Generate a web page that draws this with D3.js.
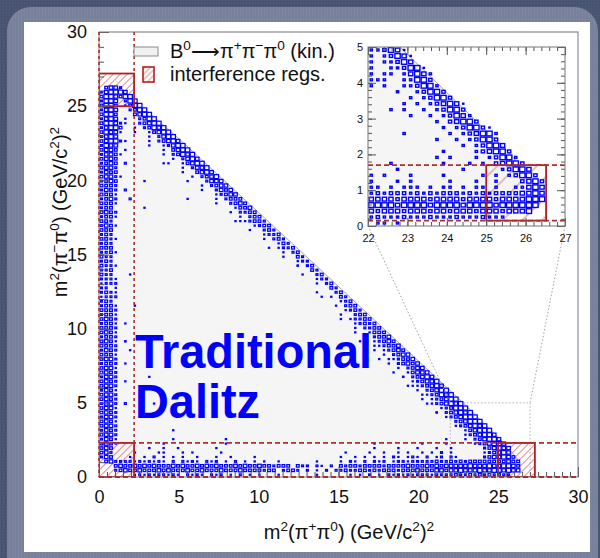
<!DOCTYPE html>
<html>
<head>
<meta charset="utf-8">
<script src="https://cdn.jsdelivr.net/npm/d3@7/dist/d3.min.js"></script>
<style>
  html, body { margin: 0; padding: 0; background: #47536f; }
  svg { display: block; }
</style>
</head>
<body>
<svg id="chart" width="600" height="558"></svg>
<script>
// ---------------- data ----------------
const mainTickValues = [0, 5, 10, 15, 20, 25, 30];
const insetXTickValues = [22, 23, 24, 25, 26, 27];
const insetYTickValues = [0, 1, 2, 3, 4, 5];

// histogram bin widths in GeV^2
const mainBin = 0.3;
const insetBin = 1 / 6;

// Kinematic limit of B0 -> pi+ pi- pi0 : [m2(pi+pi0), m2(pi-pi0)]
const kinBoundary = [
  [0.076, 13.7], [0.1, 20.7], [0.2, 24.6], [0.3, 25.7], [0.5, 26.3], [0.755, 26.41],
  [1, 26.35], [2, 25.62], [5, 22.81], [13.7, 14.15], [22.81, 5], [25.62, 2],
  [26.35, 1], [26.41, 0.755], [26.3, 0.5], [25.7, 0.3], [20.7, 0.1], [13.7, 0.076],
  [6.9, 0.1], [5, 0.13], [2, 0.28], [1, 0.53], [0.5, 1.08], [0.3, 1.84],
  [0.28, 2], [0.13, 5], [0.1, 6.9]
];

// interference regions [xmin, xmax, ymin, ymax]
const interferenceRegions = [[0, 2.2, 25.0, 27.2], [0, 2.2, 0, 2.3], [25.0, 27.3, 0, 2.3]];
const bandCutsX = [0, 2.2];
const bandCutsY = [0, 2.3];
const zoomWindow = [22, 27, 0, 5];
const insetRegion = [25.0, 26.52, 0.15, 1.7];
const insetCutsY = [0.15, 1.7];

// Main histogram contents: [row, first column, box level per column ('.' = empty)]
const leftBandRows = [
  [87,0,".3442"],[86,0,"245554"],[85,0,"3554355"],[84,0,"2554.255"],
  [83,0,"3553.1355"],[82,0,"2454..2355"],[81,0,"3553...3455"],[80,0,"2454.1..2355"],
  [79,0,"35542"],[78,0,"24553"],[77,0,"35441"],[76,0,"2454"],[75,0,"34552"],[74,0,"2544"],
  [73,0,"3443.1"],[72,0,"24431"],[71,0,"3443"],[70,0,"2343.2"],[69,0,"3442"],[68,0,"2433"],
  [67,0,"34421"],[66,0,"2343"],[65,0,"3332"],[64,0,"2432"],[63,0,"3331"],[62,0,"2342..2"],
  [61,0,"3331"],[60,0,"233"],[59,0,"3432"],[58,0,"2331"],[57,0,"332"],[56,0,"2431"],
  [55,0,"333"],[54,0,"232"],[53,0,"3321"],[52,0,"232"],[51,0,"333"],[50,0,"2231"],
  [49,0,"322"],[48,0,"232"],[47,0,"3221"],[46,0,"223"],[45,0,"322"],[44,0,"2221"],
  [43,0,"1222"],[42,0,"22.1"],[41,0,"2321"],[40,0,"1222"],[39,0,"232"],[38,0,"2331"],
  [37,0,"3332"],[36,0,"2331"],[35,0,"3432"],[34,0,"2331.1"],[33,0,"3332"],[32,0,"3431"],
  [31,0,"2332"],[30,0,"3431.1"],[29,0,"3332"],[28,0,"2432"],[27,0,"3331"],[26,0,"3442"],
  [25,0,"2332.1"],[24,0,"3441"],[23,0,"3432"],[22,0,"2442"],[21,0,"3432.1"],[20,0,"3442"],
  [19,0,"2431"],[18,0,"3442"],[17,0,"3432"],[16,0,"2442.2"],[15,0,"3441"],[14,0,"3432"],
  [13,0,"2442"],[12,0,"3431"],[11,0,"3442"],[10,0,"2432"],[9,0,"3442"],[8,0,"2431"],
  [7,0,"3431"],[6,0,"343"],[5,0,"342"],[4,0,"243"],[3,0,".34"]
];

const diagonalRows = [
  [79,5,"1..23455"],[78,6,".1.23545"],[77,7,"1..13455"],[76,8,"..1.2455"],
  [75,9,".1.23454"],[74,10,"1..12455"],[73,11,"..1.3455"],[72,12,".1.23545"],
  [71,13,"..1.2454"],[70,14,"1..13455"],[69,15,"..1.2445"],[68,16,".1..3454"],
  [67,17,"..1.2345"],[66,18,"1...2444"],[65,19,"..1.2344"],[64,20,".1..2434"],
  [63,21,"...12344"],[62,22,"..1.2333"],[61,23,".1..2343"],[60,24,"....1334"],
  [59,25,"..1.2233"],[58,26,"...1.233"],[57,27,".1..2332"],[56,28,"....1233"],
  [55,29,"..1..232"],[54,30,"....1223"],[53,31,"...1.232"],[52,32,".....132"],
  [51,33,"..1..223"],[50,34,"....1.23"],[49,35,"...1..32"],[48,36,".....122"],
  [47,37,"....1.23"],[46,38,"......32"],[45,39,"...1..23"],[44,40,".....122"],
  [43,41,"....1.23"],[42,42,"......32"],[41,43,"..1...23"],[40,44,"....1.32"],
  [39,45,".....123"],[38,46,"...1.233"],[37,47,"....1232"],[36,48,"..1..233"],
  [35,49,".1..2233"],[34,50,"...12323"],[33,51,"..1.2233"],[32,52,".1..1333"],
  [31,53,"..1.2334"],[30,54,"1..12343"],[29,55,"..1.2334"],[28,56,".1.12343"],
  [27,57,"..1.2344"],[26,58,"1..12334"],[25,59,".1.23434"],[24,60,"..1.2344"],
  [23,61,"1..13444"],[22,62,".1.23454"],[21,63,"..123445"],[20,64,"1.123454"],
  [19,65,".1.23455"],[18,66,"..123545"],[17,67,"1.123455"],[16,68,".1234545"],
  [15,69,"..123555"],[14,70,"1.234545"],[13,71,".1234555"],[12,72,"..234555"],
  [11,73,".1234545"],[10,74,"..134555"],[9,75,".1234554"],[8,76,"1.234554"],
  [7,77,".1234554"],[6,78,"..234544"],[5,79,".123454"],[4,80,"2344543"]
];

// low-mass pi-pi0 band, written in blocks of ten columns
const lowBandRows = [
  [3,3,"2222121212"+"1.2.2121.2"+"12.1.2.1.1"+".1..1....."+"..1....1.2"+"1.2.212.12"+"2122222322"+"3232333333"+"33433"],
  [2,3,"3433434343"+"3343433434"+"3433343433"+"4332333.32"+"2.21.2.323"+"3233332333"+"3433343434"+"4444544454"+"45543"],
  [1,3,"2343343334"+"3433343343"+"3343334333"+"3233.2332."+"2.1.2.2232"+"2332323332"+"3334333443"+"4454445445"+"54544"],
  [0,3,"....121212"+"2121.2121."+"212.1.2.1."+"1...1....."+"..1......1"+".1.2.1.212"+"1212221222"+"2322323232"+"322"],
  [4,5,".1..1.2.1."+"1.1..1...1"+"..1....1.."+".........."+".....1..1."+"1.1.1.21.1"+"21.2.12.21"],
  [5,5,"..1....11."+"..1.1....."+"1........."+".........."+"......1..."+".1..1..1.1"+"..1.1.2.1."],
  [6,5,".....1..1."+".1.......1"+".........."+".........."+".........."+"..1....1.."+".1...1..1."],
  [7,5,"........1."+".........."+".1........"+".........."+".........."+"..1......."+"..1....1.."],
  [8,5,".........."+"1........."+".1........"+".........."+".........."+".........."+".......1.."]
];

// isolated entries: [column, row, level]
const isolatedBins = [
  [13,70,1],[9,66,1],[18,62,1],[9,60,1],[5,75,1],[5,64,2],[29,57,1],[30,57,1],
  [37,51,1],[41,47,1],[6,28,1],[10,22,1],[11,16,1],[15,10,1],[52,35,1],[58,29,1],
  [65,20,1],[67,18,1],[70,14,1],[46,40,1],[60,26,1],[63,22,1],[68,16,1],[6,45,1],
  [7,38,1],[5,30,1]
];

// Zoomed histogram (22-27 x 0-5), one string per row from the bottom
const insetRows = [
  ".22.2",
  "232223222322232223222",
  "4344434443443444344434445",
  "55554555545555455554555555",
  "444434444344443444434444555",
  "232333232323332323233334454",
  "22.2.222.2.22.2.22.2..22454",
  "2...2.2.....2...2..2...3453",
  "2.2...2....2.....2.2.23553",
  "....2.........2.....23554",
  "...2.......2...2.2.34553",
  "..........2.2...2.23552",
  "...........2....234553",
  "..............2.23554",
  "..........2..2.23553",
  ".....2......2.234552",
  "...........2.235531",
  "..........2.34553",
  "......2..2.23542",
  "...2.2..2.23553",
  ".....2.2.234541",
  "......2.23553",
  "....2..23553",
  "2.2..223552",
  "222..22553",
  "2.22.24542",
  "2..223551",
  "2.22354",
  "2.23541",
  "223541"
];

// ---------------- drawing ----------------
const FONT = "'Liberation Sans', Arial, Helvetica, sans-serif";
const BLUE = "#0000ff";
const RED = "#b41e1e";
const DASH_RED = "#aa3030";

const svg = d3.select("#chart");
const defs = svg.append("defs");

// slide background textures
const bgTex = defs.append("pattern").attr("id", "bgTex").attr("patternUnits", "userSpaceOnUse")
  .attr("width", 3).attr("height", 3);
bgTex.append("rect").attr("width", 3).attr("height", 3).attr("fill", "#46526f");
bgTex.append("rect").attr("width", 1).attr("height", 3).attr("fill", "#4b5774");
bgTex.append("rect").attr("width", 3).attr("height", 1).attr("fill", "#4b5774");

const frTex = defs.append("pattern").attr("id", "frTex").attr("patternUnits", "userSpaceOnUse")
  .attr("width", 3).attr("height", 3);
frTex.append("rect").attr("width", 3).attr("height", 3).attr("fill", "#78819a");
frTex.append("rect").attr("width", 1).attr("height", 3).attr("fill", "#7d869e");

function makeHatch(id, gap, color, width) {
  const p = defs.append("pattern").attr("id", id).attr("patternUnits", "userSpaceOnUse")
    .attr("width", gap).attr("height", gap).attr("patternTransform", "rotate(45)");
  p.append("line").attr("x1", gap / 2).attr("x2", gap / 2).attr("y1", 0).attr("y2", gap)
    .attr("stroke", color).attr("stroke-width", width);
}
makeHatch("hatchMain", 5, "#e28a8a", 1);
makeHatch("hatchInset", 14, "#dd7777", 1);
makeHatch("hatchLegend", 4, "#e28a8a", 1);

svg.append("rect").attr("width", 600).attr("height", 558).attr("fill", "url(#bgTex)");
svg.append("rect").attr("x", 7).attr("y", 7).attr("width", 591).attr("height", 580).attr("rx", 24)
  .attr("fill", "url(#frTex)");
svg.append("rect").attr("x", 24).attr("y", 22).attr("width", 566).attr("height", 530).attr("fill", "#fff");

// scales
const x = d3.scaleLinear().domain([0, 30]).range([99, 578]);
const y = d3.scaleLinear().domain([0, 30]).range([477, 32]);
const xi = d3.scaleLinear().domain([22, 27]).range([368, 565]);
const yi = d3.scaleLinear().domain([0, 5]).range([226, 47]);

defs.append("clipPath").attr("id", "clipMain").append("rect")
  .attr("x", x(0)).attr("y", y(30)).attr("width", x(30) - x(0)).attr("height", y(0) - y(30));
defs.append("clipPath").attr("id", "clipInset").append("rect")
  .attr("x", xi(22)).attr("y", yi(5)).attr("width", xi(27) - xi(22)).attr("height", yi(0) - yi(5));

function drawHist(g, rows, bin, sx, sy, x0, lw, frac) {
  const cells = [];
  rows.forEach(([r, c0, pat]) => {
    for (let i = 0; i < pat.length; i++) {
      const v = +pat[i];
      if (v > 0) cells.push({ r, c: c0 + i, v });
    }
  });
  const bw = sx(x0 + bin) - sx(x0), bh = sy(0) - sy(bin);
  const side = (v, b) => Math.max(frac(v) * b - lw, 0.6);
  g.append("g").selectAll("rect").data(cells).join("rect")
    .attr("x", d => sx(x0 + (d.c + 0.5) * bin) - side(d.v, bw) / 2)
    .attr("y", d => sy((d.r + 0.5) * bin) - side(d.v, bh) / 2)
    .attr("width", d => side(d.v, bw))
    .attr("height", d => side(d.v, bh))
    .attr("fill", "#fff").attr("stroke", BLUE).attr("stroke-width", lw);
}

function rich(textSel, parts, size) {
  let shift = 0;
  parts.forEach(([t, sup]) => {
    const target = sup ? -0.4 * size : 0;
    textSel.append("tspan").attr("dy", target - shift)
      .attr("font-size", sup ? 0.68 * size : size).text(t);
    shift = target;
  });
}

// ---------- main Dalitz plot ----------
const main = svg.append("g");
const plot = main.append("g").attr("clip-path", "url(#clipMain)");
const kinLine = d3.line().x(d => x(d[0])).y(d => y(d[1]));

plot.append("path").attr("d", kinLine(kinBoundary) + "Z").attr("fill", "#f5f5f5").attr("stroke", "none");
plot.append("path").attr("d", kinLine(kinBoundary.slice(4, 15))).attr("fill", "none")
  .attr("stroke", "#a8a8a8").attr("stroke-width", 1);

// dotted outline of the zoomed window
plot.append("path")
  .attr("d", `M${x(zoomWindow[0])},${y(zoomWindow[2])}V${y(zoomWindow[3])}H${x(zoomWindow[1])}V${y(zoomWindow[2])}`)
  .attr("fill", "none").attr("stroke", "#aaa").attr("stroke-width", 0.9).attr("stroke-dasharray", "1.5,2");

// hatched interference regions
plot.selectAll("rect.hatch").data(interferenceRegions).join("rect").attr("class", "hatch")
  .attr("x", d => x(d[0])).attr("y", d => y(d[3]))
  .attr("width", d => x(d[1]) - x(d[0])).attr("height", d => y(d[2]) - y(d[3]))
  .attr("fill", "url(#hatchMain)");

drawHist(plot, leftBandRows.concat(diagonalRows, lowBandRows,
  isolatedBins.map(([c, r, v]) => [r, c, String(v)])), mainBin, x, y, 0, 1.25,
  d3.scaleLinear().domain([1, 5]).range([0.5, 1.18]));

// region outlines
plot.selectAll("rect.region").data(interferenceRegions).join("rect").attr("class", "region")
  .attr("x", d => x(d[0])).attr("y", d => y(d[3]))
  .attr("width", d => x(d[1]) - x(d[0])).attr("height", d => y(d[2]) - y(d[3]))
  .attr("fill", "none").attr("stroke", RED).attr("stroke-width", 1.8);

// axes
const axisStyle = (g, size) => {
  g.select(".domain").remove();
  g.selectAll(".tick line").attr("stroke", "#555").attr("stroke-width", 1);
  g.selectAll("text").attr("font-family", FONT).attr("font-size", size).attr("fill", "#111");
};
main.append("g").attr("transform", `translate(0,${y(0)})`)
  .call(d3.axisBottom(x).tickValues(d3.range(0, 30.01, 0.5)).tickSize(-5).tickFormat(""))
  .call(g => axisStyle(g, 18));
main.append("g").attr("transform", `translate(${x(0)},0)`)
  .call(d3.axisLeft(y).tickValues(d3.range(0, 30.01, 1)).tickSize(-5).tickFormat(""))
  .call(g => axisStyle(g, 18));
main.append("g").attr("transform", `translate(0,${y(0)})`)
  .call(d3.axisBottom(x).tickValues(mainTickValues).tickSize(-10).tickPadding(13).tickFormat(d3.format("d")))
  .call(g => axisStyle(g, 18));
main.append("g").attr("transform", `translate(${x(0)},0)`)
  .call(d3.axisLeft(y).tickValues(mainTickValues).tickSize(-10).tickPadding(12).tickFormat(d3.format("d")))
  .call(g => axisStyle(g, 18));

main.append("rect").attr("x", x(0)).attr("y", y(30)).attr("width", x(30) - x(0)).attr("height", y(0) - y(30))
  .attr("fill", "none").attr("stroke", "#777").attr("stroke-width", 1);

// dashed band boundaries
main.selectAll("line.bx").data(bandCutsX).join("line").attr("class", "bx")
  .attr("x1", d => x(d)).attr("x2", d => x(d)).attr("y1", y(30)).attr("y2", y(0))
  .attr("stroke", DASH_RED).attr("stroke-width", 1.6).attr("stroke-dasharray", "3,3");
main.selectAll("line.by").data(bandCutsY).join("line").attr("class", "by")
  .attr("x1", x(0)).attr("x2", x(30)).attr("y1", d => y(d)).attr("y2", d => y(d))
  .attr("stroke", DASH_RED).attr("stroke-width", 1.8).attr("stroke-dasharray", "5,3");

// axis titles
const xt = main.append("text").attr("x", 349).attr("y", 539).attr("text-anchor", "middle")
  .attr("font-family", FONT).attr("font-size", 20).attr("fill", "#111");
rich(xt, [["m", 0], ["2", 1], ["(π", 0], ["+", 1], ["π", 0], ["0", 1], [") (GeV/c", 0], ["2", 1], [")", 0], ["2", 1]], 20);
const yt = main.append("text").attr("transform", "translate(67,212) rotate(-90)").attr("text-anchor", "middle")
  .attr("font-family", FONT).attr("font-size", 20).attr("fill", "#111");
rich(yt, [["m", 0], ["2", 1], ["(π", 0], ["−", 1], ["π", 0], ["0", 1], [") (GeV/c", 0], ["2", 1], [")", 0], ["2", 1]], 20);

// connector lines from the zoom window to the inset
main.selectAll("line.zoom").data([0, 1]).join("line").attr("class", "zoom")
  .attr("x1", d => xi(zoomWindow[d])).attr("y1", yi(0))
  .attr("x2", d => x(zoomWindow[d])).attr("y2", y(zoomWindow[3]))
  .attr("stroke", "#999").attr("stroke-width", 0.9).attr("stroke-dasharray", "1.5,2");

// legend
const legend = main.append("g").attr("font-family", FONT).attr("font-size", 20).attr("fill", "#111");
legend.append("rect").attr("x", 134).attr("y", 47).attr("width", 24).attr("height", 9)
  .attr("fill", "#f1f1f1").attr("stroke", "#8a8a8a").attr("stroke-width", 1);
legend.append("rect").attr("x", 143).attr("y", 67).attr("width", 11).attr("height", 15)
  .attr("fill", "url(#hatchLegend)").attr("stroke", RED).attr("stroke-width", 1.6);
rich(legend.append("text").attr("x", 170).attr("y", 58),
  [["B", 0], ["0", 1], ["⟶π", 0], ["+", 1], ["π", 0], ["−", 1], ["π", 0], ["0", 1], [" (kin.)", 0]], 20);
legend.append("text").attr("x", 170).attr("y", 81).text("interference regs.");

// caption inside the plot
const cap = main.append("g").attr("font-family", FONT).attr("font-weight", "bold")
  .attr("font-size", 48).attr("fill", BLUE);
cap.append("text").attr("x", 135).attr("y", 368).attr("textLength", 237)
  .attr("lengthAdjust", "spacingAndGlyphs").text("Traditional");
cap.append("text").attr("x", 135).attr("y", 418).attr("textLength", 125)
  .attr("lengthAdjust", "spacingAndGlyphs").text("Dalitz");

// ---------- inset ----------
const inset = svg.append("g");
inset.append("rect").attr("x", xi(22)).attr("y", yi(5)).attr("width", xi(27) - xi(22))
  .attr("height", yi(0) - yi(5)).attr("fill", "#fff");
const ip = inset.append("g").attr("clip-path", "url(#clipInset)");
const kinLineI = d3.line().x(d => xi(d[0])).y(d => yi(d[1]));
ip.append("path").attr("d", kinLineI(kinBoundary) + "Z").attr("fill", "#f5f5f5");
ip.append("path").attr("d", kinLineI(kinBoundary.slice(4, 15))).attr("fill", "none")
  .attr("stroke", "#a8a8a8").attr("stroke-width", 1);
ip.append("rect").attr("x", xi(insetRegion[0])).attr("y", yi(insetRegion[3]))
  .attr("width", xi(insetRegion[1]) - xi(insetRegion[0])).attr("height", yi(insetRegion[2]) - yi(insetRegion[3]))
  .attr("fill", "url(#hatchInset)");
drawHist(ip, insetRows.map((p, r) => [r, 0, p]), insetBin, xi, yi, 22, 1.4,
  d3.scaleLinear().domain([1, 5]).range([0.4, 1.02]));
ip.append("rect").attr("x", xi(insetRegion[0])).attr("y", yi(insetRegion[3]))
  .attr("width", xi(insetRegion[1]) - xi(insetRegion[0])).attr("height", yi(insetRegion[2]) - yi(insetRegion[3]))
  .attr("fill", "none").attr("stroke", RED).attr("stroke-width", 1.8);
ip.selectAll("line.cut").data(insetCutsY).join("line").attr("class", "cut")
  .attr("x1", xi(22)).attr("x2", xi(27)).attr("y1", d => yi(d)).attr("y2", d => yi(d))
  .attr("stroke", DASH_RED).attr("stroke-width", 1.8).attr("stroke-dasharray", "5,3");

const minorX = d3.range(22, 27.001, 0.2), minorY = d3.range(0, 5.001, 0.2);
const addAxis = (axis, tr, size) => inset.append("g").attr("transform", tr).call(axis).call(g => axisStyle(g, size));
addAxis(d3.axisBottom(xi).tickValues(minorX).tickSize(-4).tickFormat(""), `translate(0,${yi(0)})`, 11);
addAxis(d3.axisTop(xi).tickValues(minorX).tickSize(-4).tickFormat(""), `translate(0,${yi(5)})`, 11);
addAxis(d3.axisLeft(yi).tickValues(minorY).tickSize(-4).tickFormat(""), `translate(${xi(22)},0)`, 11);
addAxis(d3.axisRight(yi).tickValues(minorY).tickSize(-4).tickFormat(""), `translate(${xi(27)},0)`, 11);
addAxis(d3.axisBottom(xi).tickValues(insetXTickValues).tickSize(-8).tickPadding(8).tickFormat(d3.format("d")), `translate(0,${yi(0)})`, 11);
addAxis(d3.axisTop(xi).tickValues(insetXTickValues).tickSize(-8).tickFormat(""), `translate(0,${yi(5)})`, 11);
addAxis(d3.axisLeft(yi).tickValues(insetYTickValues).tickSize(-8).tickPadding(5).tickFormat(d3.format("d")), `translate(${xi(22)},0)`, 11);
addAxis(d3.axisRight(yi).tickValues(insetYTickValues).tickSize(-8).tickFormat(""), `translate(${xi(27)},0)`, 11);
inset.append("rect").attr("x", xi(22)).attr("y", yi(5)).attr("width", xi(27) - xi(22))
  .attr("height", yi(0) - yi(5)).attr("fill", "none").attr("stroke", "#777").attr("stroke-width", 1);
</script>
</body>
</html>
